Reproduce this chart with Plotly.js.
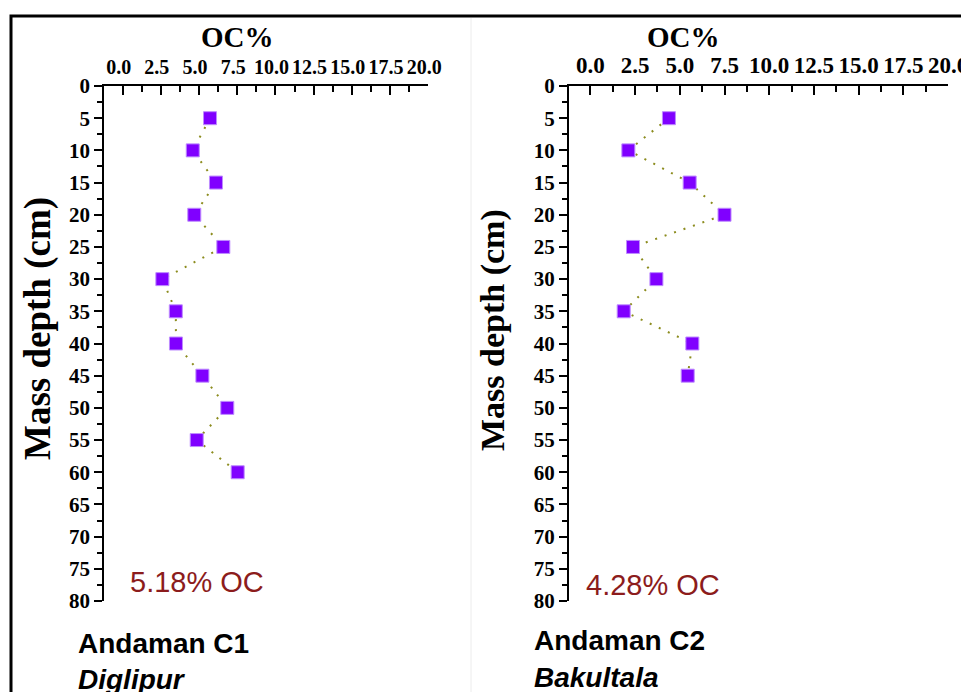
<!DOCTYPE html>
<html>
<head>
<meta charset="utf-8">
<script src="https://cdn.plot.ly/plotly-3.0.1.min.js"></script>
<style>html,body{margin:0;padding:0;background:#fff;}#chart{width:961px;height:692px;}</style>
</head>
<body>
<div id="chart"></div>
<script>
// Data
const depthC1 = [5, 10, 15, 20, 25, 30, 35, 40, 45, 50, 55, 60];
const ocC1 = [5.72, 4.59, 6.11, 4.69, 6.59, 2.60, 3.48, 3.49, 5.22, 6.85, 4.85, 7.53];
const depthC2 = [5, 10, 15, 20, 25, 30, 35, 40, 45];
const ocC2 = [4.39, 2.12, 5.55, 7.50, 2.38, 3.69, 1.86, 5.70, 5.44];
const meanLabels = ["5.18% OC", "4.28% OC"];
const coreNames = ["Andaman C1", "Andaman C2"];
const siteNames = ["Diglipur", "Bakultala"];
const xTitle = "OC%";
const yTitle = "Mass depth (cm)";

const W = 961, H = 692;
const px = v => v / W;
const py = v => 1 - v / H;

const serif = "Liberation Serif, Times New Roman, serif";
const sans = "Liberation Sans, Arial, sans-serif";

function trace(x, y, xa, ya) {
  return {
    type: "scatter", mode: "lines+markers", x: x, y: y, xaxis: xa, yaxis: ya,
    line: {color: "rgb(140,140,30)", width: 2, dash: "2px,8px"},
    marker: {symbol: "square", size: 13, color: "rgb(128,0,255)", line: {color: "rgb(190,140,255)", width: 1}},
    showlegend: false, cliponaxis: false
  };
}

function xaxisDef(d0, d1, anchor, fs, shift) {
  return {
    domain: [px(d0), px(d1)], anchor: anchor, side: "top", range: [-1.2, 20],
    tick0: 0, dtick: 2.5, tickformat: ".1f", ticks: "inside", ticklen: 9, tickwidth: 2, tickcolor: "#000",
    minor: {dtick: 1.25, ticks: "inside", ticklen: 6, tickwidth: 2, tickcolor: "#000", showgrid: false},
    showline: true, linecolor: "#000", linewidth: 2, showgrid: false, zeroline: false,
    tickfont: {family: serif, size: fs, color: "#000", weight: "bold"},
    ticklabelshift: shift, ticklabelstandoff: 2, ticklabeloverflow: "allow", fixedrange: true
  };
}
function yaxisDef(anchor) {
  return {
    domain: [py(601), py(86)], anchor: anchor, range: [80, 0], autorange: false,
    tick0: 0, dtick: 5, ticks: "outside", ticklen: 8, tickwidth: 2, tickcolor: "#000",
    minor: {dtick: 2.5, ticks: "outside", ticklen: 5, tickwidth: 2, tickcolor: "#000", showgrid: false},
    showline: true, linecolor: "#000", linewidth: 2, showgrid: false, zeroline: false,
    tickfont: {family: serif, size: 21, color: "#000", weight: "bold"},
    ticklabelstandoff: 0, fixedrange: true
  };
}

const data = [trace(ocC1, depthC1, "x", "y"), trace(ocC2, depthC2, "x2", "y2")];

function ann(text, x, y, font, opts) {
  return Object.assign({text: text, x: px(x), y: py(y), xref: "paper", yref: "paper", showarrow: false, font: font}, opts || {});
}

const annotations = [
  ann(xTitle, 237, 37, {family: serif, size: 29, color: "#000", weight: "bold"}, {xanchor: "center", yanchor: "middle"}),
  ann(xTitle, 683, 37, {family: serif, size: 29, color: "#000", weight: "bold"}, {xanchor: "center", yanchor: "middle"}),
  ann(yTitle, 38, 329, {family: serif, size: 37, color: "#000", weight: "bold"}, {xanchor: "center", yanchor: "middle", textangle: -90}),
  ann(yTitle, 493, 330, {family: serif, size: 34, color: "#000", weight: "bold"}, {xanchor: "center", yanchor: "middle", textangle: -90}),
  ann(meanLabels[0], 128, 582, {family: sans, size: 29, color: "rgb(140,28,28)"}, {xanchor: "left", yanchor: "middle"}),
  ann(meanLabels[1], 584, 585, {family: sans, size: 29, color: "rgb(140,28,28)"}, {xanchor: "left", yanchor: "middle"}),
  ann(coreNames[0], 76, 643, {family: sans, size: 28, color: "#000", weight: "bold"}, {xanchor: "left", yanchor: "middle"}),
  ann(coreNames[1], 532, 640, {family: sans, size: 28, color: "#000", weight: "bold"}, {xanchor: "left", yanchor: "middle"}),
  ann(siteNames[0], 76, 679, {family: sans, size: 28, color: "#000", weight: "bold", style: "italic"}, {xanchor: "left", yanchor: "middle"}),
  ann(siteNames[1], 532, 677, {family: sans, size: 28, color: "#000", weight: "bold", style: "italic"}, {xanchor: "left", yanchor: "middle"})
];

const shapes = [
  {type: "path", xref: "paper", yref: "paper",
   path: "M " + px(11) + "," + py(700) + " L " + px(11) + "," + py(16) + " L " + px(970) + "," + py(16),
   line: {color: "#000", width: 3}},
  {type: "line", xref: "paper", yref: "paper", x0: px(471), x1: px(471), y0: py(18), y1: py(692),
   line: {color: "#ececec", width: 1}}
];

const layout = {
  width: W, height: H, margin: {l: 0, r: 0, t: 0, b: 0},
  paper_bgcolor: "#fff", plot_bgcolor: "rgba(0,0,0,0)",
  xaxis: xaxisDef(104.3, 428.2, "y", 20, -4),
  yaxis: yaxisDef("x"),
  xaxis2: xaxisDef(569, 948, "y2", 23, 0),
  yaxis2: yaxisDef("x2"),
  annotations: annotations, shapes: shapes, showlegend: false
};

Plotly.newPlot("chart", data, layout, {staticPlot: true, displayModeBar: false});
</script>
</body>
</html>
